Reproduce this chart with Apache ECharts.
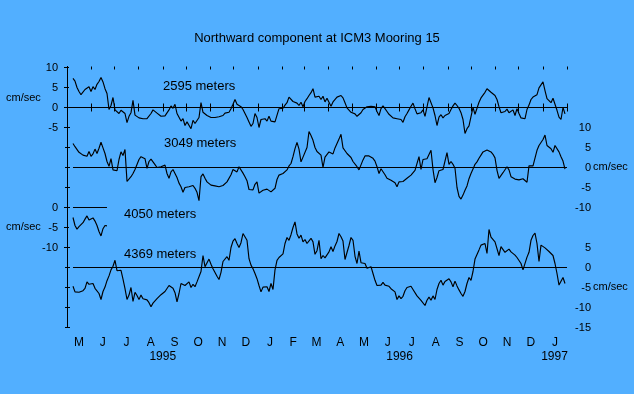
<!DOCTYPE html>
<html><head><meta charset="utf-8">
<script src="https://cdn.jsdelivr.net/npm/echarts@6/dist/echarts.min.js"></script>
<style>html,body{margin:0;padding:0;background:#52AFFF;}#c{width:634px;height:394px;}</style>
</head><body><div id="c"></div><script>
const chartTitle = 'Northward component at ICM3 Mooring 15';
const depthLabels = ['2595 meters', '3049 meters', '4050 meters', '4369 meters'];
const depthOffsets = [0, -15, -25, -40];
const sampleStartDay = 7.7;     // days after 1 May 1995
const sampleStepDays = 2.568;

const v2595 = [
7.3,6.6,5.0,4.0,3.2,3.5,4.5,4.3,5.2,4.0,
5.2,4.5,5.8,6.5,7.5,6.4,4.7,3.5,-0.5,0.5,
2.5,-0.6,-0.8,-1.5,-0.7,-1.2,-1.5,-3.8,-2.2,-1.3,
1.8,-1.9,-2.4,-2.6,-2.2,-2.8,-2.3,-2.8,-2.5,-1.5,
-0.6,-0.5,-1.4,-1.3,-2.2,-1.8,-2.1,-2.0,-0.6,0.4,
-0.2,0.8,-1.5,-1.3,-3.4,-2.8,-4.5,-3.6,-3.5,-5.3,
-3.2,-4.0,-4.3,-2.5,1.2,-1.2,-1.7,-2.0,-2.3,-2.5,
-2.5,-2.5,-3.0,-2.3,-2.4,-2.0,-1.4,-1.7,-1.2,-0.3,
0.8,2.0,0.8,1.3,0.2,-0.5,-1.5,-2.5,-3.6,-4.7,
-4.0,-1.5,-2.5,-5.0,-3.0,-3.2,-2.8,-3.4,-2.2,-3.4,
-3.3,-3.6,-3.8,-0.3,0.2,-0.2,0.6,1.2,2.6,2.2,
1.5,1.2,1.1,0.5,1.3,0.2,1.5,2.2,3.0,3.7,
4.7,2.6,3.0,
2.8,2.0,2.8,1.4,2.3,1.8,0.3,1.4,1.0,2.6,
2.5,3.0,2.4,1.2,-0.1,-0.4,-1.2,-0.8,-1.6,-2.2,
-2.1,-1.3,-0.5,0.0,0.2,0.7,0.3,-0.1,0.2,-1.0,
-2.0,-0.3,0.4,-0.3,-1.0,-1.7,-1.3,-2.6,-2.3,-2.8,
-3.2,-3.0,-3.7,-2.3,-1.5,-0.6,0.3,1.1,-0.3,-1.6,
-2.0,-1.3,-0.6,-2.2,-2.0,2.5,2.0,-0.1,-2.0,-4.5,
-2.4,-1.8,-2.6,-2.0,-1.9,-1.5,-0.5,0.4,1.1,0.5,
-0.2,-1.3,-3.0,-6.5,-5.3,-4.6,-2.3,0.0,-1.7,-0.2,
1.3,2.4,3.1,3.8,4.7,4.2,3.8,3.6,3.0,2.0,
0.2,-1.3,-1.8,-1.0,-0.4,-1.3,-1.7,-0.6,-2.0,-0.3,
-1.5,-2.6,-2.2,-2.8,-0.5,0.6,2.0,2.6,2.2,3.2,
4.9,5.3,6.4,4.2,2.2,2.0,1.2,2.3,0.8,-0.7,
-2.4,-3.0,0.0,-1.6
];

const v3049 = [
6.0,5.2,4.7,3.8,3.7,3.1,3.5,2.8,4.0,2.8,
3.4,4.6,3.5,4.8,6.3,4.9,3.5,1.5,0.3,2.2,
-0.6,-0.3,-0.8,2.0,3.9,3.0,4.5,-3.5,-3.0,-2.3,
-1.5,-0.5,-1.0,2.0,2.7,3.1,2.2,-0.2,1.5,2.1,
1.8,0.7,0.0,-0.1,0.2,-0.2,0.6,-1.5,-2.7,-1.1,
-0.5,-0.8,-2.5,-3.9,-4.8,-6.2,-5.0,-5.2,-4.8,-5.2,
-4.5,-5.2,-6.2,-8.3,-2.3,-1.6,-2.7,-3.6,-4.0,-4.4,
-4.5,-4.6,-4.4,-4.8,-4.3,-4.5,-4.1,-3.6,-3.3,-1.8,
-0.5,0.0,-1.1,0.2,-0.1,-1.4,-2.3,-3.3,-5.5,-5.2,
-5.6,-4.2,-3.6,-6.4,-6.1,-5.7,-6.0,-5.4,-5.7,-6.1,
-6.4,-5.2,-3.0,-1.9,-2.3,-1.5,-1.0,-0.6,0.4,1.0,
2.7,4.7,6.3,4.6,1.4,2.6,2.3,5.0,9.0,8.0,
6.8,5.0,4.0,
4.0,3.1,0.0,2.6,2.6,3.9,4.3,3.4,4.9,6.0,
7.1,8.3,4.9,4.4,3.5,3.4,2.5,1.5,1.0,0.2,
-0.6,-0.5,1.9,2.9,2.7,2.9,2.4,2.3,1.6,0.2,
-1.5,-0.3,0.1,-1.8,-2.7,-2.4,-3.2,-3.0,-3.8,-4.8,
-3.6,-3.9,-3.5,-3.2,-2.7,-2.3,-1.9,-1.5,-0.7,-1.1,
2.7,-0.5,2.0,1.5,2.2,2.5,4.3,-0.5,-3.8,-2.5,
-0.8,-1.3,-0.5,-0.7,3.7,0.8,1.5,0.8,-0.2,-5.0,
-7.2,-7.9,-6.9,-5.7,-4.6,-2.8,-1.5,-0.4,0.8,1.4,
2.3,3.1,3.9,4.1,4.4,4.4,3.9,3.3,2.4,-0.7,
-2.7,-2.4,-1.3,-1.5,0.2,-0.6,-2.3,-1.8,-2.9,-3.4,
-3.1,-3.6,-2.8,-2.6,-3.7,0.4,0.2,0.4,0.0,4.3,
5.5,6.0,7.0,8.1,5.5,5.6,4.7,3.8,5.5,5.0,
3.9,2.7,1.6,-0.4
];

const v4050 = [-2.5,-4.5,-5.4,-4.8,-5.0,-3.8,-2.9,-2.1,-3.1,-3.4,-2.6,-3.4,-4.5,-6.0,-7.1,-5.3,-4.5,-4.6];

const v4369 = [
-4.7,-6.1,-5.8,-6.2,-6.4,-5.8,-5.2,-3.6,-4.2,-3.8,
-4.0,-5.2,-4.9,-6.5,-8.0,-6.0,-4.9,-3.3,-2.1,-0.6,
0.3,1.8,-0.8,-0.4,-0.7,-2.9,-5.3,-8.0,-6.9,-5.0,
-8.5,-6.2,-7.0,-8.0,-6.9,-7.8,-8.3,-8.1,-8.8,-9.8,
-8.9,-8.5,-7.8,-7.6,-6.8,-7.1,-6.0,-5.9,-4.5,-4.0,
-5.2,-6.3,-8.6,-6.5,-4.0,-4.5,-4.5,-4.8,-3.6,-5.0,
-4.2,-4.8,-3.6,-4.0,-1.0,3.0,0.2,0.7,2.1,0.8,
-0.3,0.1,-2.2,-3.0,-1.2,1.5,1.4,2.7,1.8,5.0,
6.6,7.2,6.0,5.0,6.2,8.5,9.0,6.8,2.2,0.6,
-0.3,-1.5,-2.8,-4.5,-6.1,-4.9,-5.0,-4.8,-6.0,-4.0,
-5.5,-0.6,1.8,2.5,2.7,3.4,6.0,7.5,6.8,8.2,
10.0,11.4,8.4,7.3,8.1,6.4,7.0,6.0,6.5,7.3,
6.4,3.3,4.2,
6.8,2.2,3.0,2.4,2.4,3.9,5.2,4.0,5.4,6.5,
8.5,7.7,6.6,2.0,2.5,5.5,7.5,6.8,2.8,1.0,
4.1,1.2,1.2,1.0,-0.2,-0.6,0.2,-1.5,-3.2,-4.5,
-4.0,-4.4,-3.7,-4.4,-4.6,-4.7,-5.3,-5.7,-6.1,-8.0,
-7.1,-7.8,-7.2,-5.8,-5.0,-5.2,-4.7,-5.5,-5.8,-7.1,
-6.9,-8.2,-8.5,-9.5,-8.2,-7.4,-8.2,-7.1,-8.0,-5.5,
-4.0,-3.2,-4.4,-3.5,-3.4,-2.8,-3.6,-4.8,-3.4,-4.6,
-5.6,-6.5,-7.2,-6.0,-4.0,-2.5,-3.2,-1.0,2.1,1.8,
4.4,5.6,5.2,6.0,3.5,9.5,7.6,7.8,6.4,6.8,
3.0,5.2,5.4,3.8,4.0,4.6,3.9,3.9,3.1,2.5,
2.3,1.0,-0.6,-0.2,2.6,3.8,6.8,8.0,8.6,6.0,
1.5,5.6,6.0,4.9,4.7,4.0,3.5,3.0,1.0,-1.5,
-4.4,-4.8,-2.5,-4.0
];

const seriesValues = [v2595, v3049, v4050, v4369];

const monthLetters = ['M','J','J','A','S','O','N','D','J','F','M','A','M','J','J','A','S','O','N','D','J'];
const yearLabels = ['1995', '1996', '1997'];
const yearLabelDates = [[1995, 8, 1], [1996, 6, 1], [1997, 0, 16]];

// [depth index, value in cm/sec]
const leftTicks = [[0,10],[0,5],[0,0],[0,-5],[2,0],[2,-5],[2,-10]];
const rightTicks = [[1,10],[1,5],[1,0],[1,-5],[1,-10],[3,5],[3,0],[3,-5],[3,-10],[3,-15]];
const unitText = 'cm/sec';

// ---- build ----
const T0 = Date.UTC(1995, 4, 1);
const dayOf = (y, m, d) => (Date.UTC(y, m, d) - T0) / 86400000;
const monthStarts = [];
for (let i = 0; i <= monthLetters.length; i++) monthStarts.push(dayOf(1995, 4 + i, 1));
const monthMids = monthLetters.map((_, i) => (monthStarts[i] + monthStarts[i + 1]) / 2);
const xMax = monthStarts[monthStarts.length - 1];
const yearDays = yearLabelDates.map(d => dayOf(d[0], d[1], d[2]));

const leftG = leftTicks.map(t => depthOffsets[t[0]] + t[1]);
const rightG = rightTicks.map(t => depthOffsets[t[0]] + t[1]);
function lookup(list, gs, v) {
  for (let i = 0; i < gs.length; i++) if (Math.abs(gs[i] - v) < 1e-6) return String(list[i][1]);
  return '';
}
function near(arr, v) {
  for (let i = 0; i < arr.length; i++) if (Math.abs(arr[i] - v) < 1e-3) return i;
  return -1;
}

const FONT = '"Liberation Sans", Arial, sans-serif';
const BLACK = '#000';
const Y_MIN = -55, Y_MAX = 10.25;

const series = [];
seriesValues.forEach((vals, k) => {
  const off = depthOffsets[k];
  const data = vals.map((v, i) => [sampleStartDay + i * sampleStepDays, v + off]);
  const lastDay = k === 2 ? data[data.length - 1][0] : xMax;
  series.push({
    type: 'line', data: [[sampleStartDay, off], [lastDay, off]],
    symbol: 'none', silent: true, lineStyle: { color: BLACK, width: 1 }, z: 2
  });
  series.push({
    type: 'line', name: depthLabels[k], data,
    symbol: 'none', silent: true, lineStyle: { color: BLACK, width: 1.15 }, z: 3
  });
});

const yBase = { type: 'value', min: Y_MIN, max: Y_MAX, splitLine: { show: false } };
const xBase = { type: 'value', min: 0, max: xMax, splitLine: { show: false } };

const option = {
  animation: false,
  backgroundColor: '#52AFFF',
  title: {
    text: chartTitle, left: 'center', top: 27,
    textStyle: { fontFamily: FONT, fontSize: 13, fontWeight: 'normal', color: BLACK }
  },
  grid: { left: 67, right: 67, top: 66.5, bottom: 66.5, containLabel: false, outerBoundsMode: 'none' },
  xAxis: [
    Object.assign({}, xBase, { position: 'bottom',
      axisLine: { show: true, lineStyle: { color: BLACK, width: 1 } },
      axisTick: { show: true, customValues: monthStarts, length: 4, lineStyle: { color: BLACK } },
      axisLabel: { show: true, customValues: monthMids, margin: 9, color: BLACK, fontFamily: FONT, fontSize: 12,
        formatter: v => { const i = near(monthMids, v); return i >= 0 ? monthLetters[i] : ''; } } }),
    Object.assign({}, xBase, { position: 'bottom',
      axisLine: { show: false },
      axisTick: { show: true, inside: true, customValues: monthStarts, length: 4, lineStyle: { color: BLACK } },
      axisLabel: { show: false } }),
    Object.assign({}, xBase, { position: 'bottom',
      axisLine: { show: false }, axisTick: { show: false },
      axisLabel: { show: true, customValues: yearDays, margin: 23, color: BLACK, fontFamily: FONT, fontSize: 12,
        formatter: v => { const i = near(yearDays, v); return i >= 0 ? yearLabels[i] : ''; } } }),
    Object.assign({}, xBase, { position: 'top',
      axisLine: { show: true, lineStyle: { color: BLACK, width: 1 } },
      axisTick: { show: true, customValues: monthStarts, length: 3, lineStyle: { color: BLACK } },
      axisLabel: { show: false } }),
    Object.assign({}, xBase, { position: 'top',
      axisLine: { show: false },
      axisTick: { show: true, inside: true, customValues: monthStarts, length: 3, lineStyle: { color: BLACK } },
      axisLabel: { show: false } })
  ],
  yAxis: [
    Object.assign({}, yBase, { position: 'left',
      axisLine: { show: true, lineStyle: { color: BLACK, width: 1 } },
      axisTick: { show: true, customValues: leftG, length: 3, lineStyle: { color: BLACK } },
      axisLabel: { show: true, customValues: leftG, margin: 9, color: BLACK, fontFamily: FONT, fontSize: 11,
        formatter: v => lookup(leftTicks, leftG, v) } }),
    Object.assign({}, yBase, { position: 'left',
      axisLine: { show: false },
      axisTick: { show: true, inside: true, customValues: leftG, length: 2, lineStyle: { color: BLACK } },
      axisLabel: { show: false } }),
    Object.assign({}, yBase, { position: 'right',
      axisLine: { show: true, lineStyle: { color: BLACK, width: 1 } },
      axisTick: { show: true, customValues: rightG, length: 3, lineStyle: { color: BLACK } },
      axisLabel: { show: true, customValues: rightG, margin: 24, align: 'right', color: BLACK, fontFamily: FONT, fontSize: 11,
        formatter: v => lookup(rightTicks, rightG, v) } }),
    Object.assign({}, yBase, { position: 'right',
      axisLine: { show: false },
      axisTick: { show: true, inside: true, customValues: rightG, length: 2, lineStyle: { color: BLACK } },
      axisLabel: { show: false } })
  ],
  graphic: [
    { type: 'text', x: 163, y: 86, style: { text: depthLabels[0], font: '13px ' + FONT, fill: BLACK, verticalAlign: 'middle' } },
    { type: 'text', x: 164, y: 143, style: { text: depthLabels[1], font: '13px ' + FONT, fill: BLACK, verticalAlign: 'middle' } },
    { type: 'text', x: 124, y: 214, style: { text: depthLabels[2], font: '13px ' + FONT, fill: BLACK, verticalAlign: 'middle' } },
    { type: 'text', x: 124, y: 254, style: { text: depthLabels[3], font: '13px ' + FONT, fill: BLACK, verticalAlign: 'middle' } },
    { type: 'text', x: 6, y: 97.5, style: { text: unitText, font: '11px ' + FONT, fill: BLACK, verticalAlign: 'middle' } },
    { type: 'text', x: 6, y: 227, style: { text: unitText, font: '11px ' + FONT, fill: BLACK, verticalAlign: 'middle' } },
    { type: 'text', x: 593, y: 167, style: { text: unitText, font: '11px ' + FONT, fill: BLACK, verticalAlign: 'middle' } },
    { type: 'text', x: 593, y: 287, style: { text: unitText, font: '11px ' + FONT, fill: BLACK, verticalAlign: 'middle' } }
  ],
  series
};

const chart = echarts.init(document.getElementById('c'), null, { renderer: 'canvas' });
chart.setOption(option);
</script></body></html>
